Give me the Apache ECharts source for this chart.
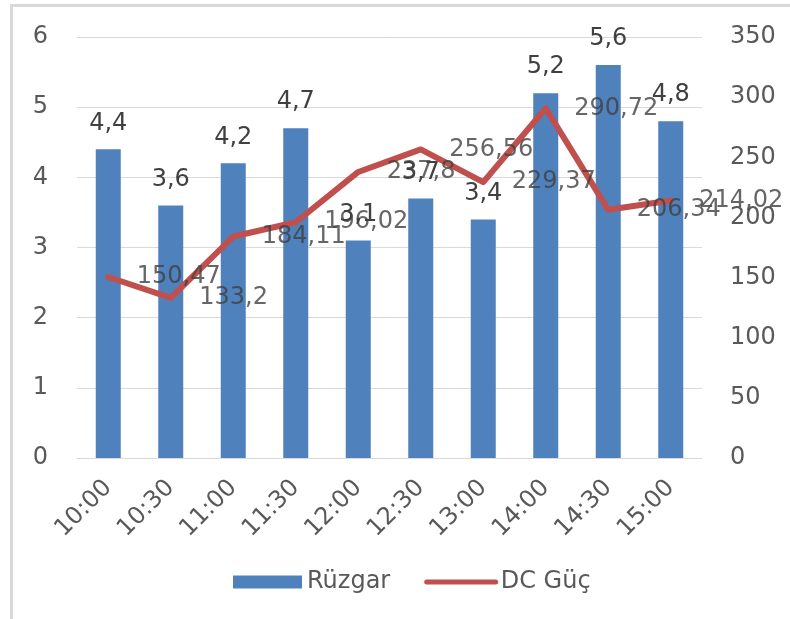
<!DOCTYPE html>
<html>
<head>
<meta charset="utf-8">
<title>Rüzgar / DC Güç</title>
<script src="https://cdn.jsdelivr.net/npm/echarts@6/dist/echarts.min.js"></script>
<style>
  html, body { margin: 0; padding: 0; background: #ffffff; }
  #chart { width: 790px; height: 619px; }
</style>
</head>
<body>
<div id="chart"></div>
<script>
// Half-hourly readings
const times = ['10:00', '10:30', '11:00', '11:30', '12:00', '12:30', '13:00', '14:00', '14:30', '15:00'];
const windValues = [4.4, 3.6, 4.2, 4.7, 3.1, 3.7, 3.4, 5.2, 5.6, 4.8];
const dcPower = [150.47, 133.2, 184.11, 196.02, 237.8, 256.56, 229.37, 290.72, 206.34, 214.02];

// Tick values for the two value axes
const leftTicks = { min: 0, max: 6, step: 1 };
const rightTicks = { min: 0, max: 350, step: 50 };

const FONT = 'DejaVu Sans';
const SIZE = 24;
const TEXT = '#595959';
const commaDecimal = v => String(v).replace('.', ',');

const chart = echarts.init(document.getElementById('chart'), null, { renderer: 'canvas' });

chart.setOption({
  animation: false,
  backgroundColor: '#ffffff',
  textStyle: { fontFamily: FONT },
  graphic: [{
    type: 'rect',
    silent: true,
    shape: { x: 11.5, y: 5.5, width: 900, height: 800 },
    style: { fill: 'none', stroke: '#d9d9d9', lineWidth: 3 },
    z: -10
  }],
  grid: { left: 77, right: 88, top: 37, bottom: 161, containLabel: false },
  legend: {
    bottom: 20,
    left: 228,
    itemWidth: 69,
    itemHeight: 13,
    itemGap: 34,
    textStyle: { fontFamily: FONT, fontSize: SIZE, color: TEXT },
    data: [
      { name: 'Rüzgar', icon: 'rect' },
      { name: 'DC Güç', itemStyle: { opacity: 0 }, lineStyle: { width: 5, cap: 'round' } }
    ]
  },
  xAxis: {
    type: 'category',
    data: times,
    axisLine: { lineStyle: { color: '#d9d9d9', width: 1 } },
    axisTick: { show: false },
    axisLabel: {
      rotate: 45,
      interval: 0,
      margin: 26,
      fontFamily: FONT,
      fontSize: SIZE,
      color: TEXT
    }
  },
  yAxis: [
    {
      type: 'value',
      min: leftTicks.min,
      max: leftTicks.max,
      interval: leftTicks.step,
      axisLine: { show: false },
      axisTick: { show: false },
      splitLine: { lineStyle: { color: '#d9d9d9', width: 1 } },
      axisLabel: { margin: 29, fontFamily: FONT, fontSize: SIZE, color: TEXT }
    },
    {
      type: 'value',
      min: rightTicks.min,
      max: rightTicks.max,
      interval: rightTicks.step,
      position: 'right',
      axisLine: { show: false },
      axisTick: { show: false },
      splitLine: { show: false },
      axisLabel: { margin: 28, fontFamily: FONT, fontSize: SIZE, color: TEXT }
    }
  ],
  series: [
    {
      name: 'Rüzgar',
      type: 'bar',
      data: windValues,
      barWidth: 25,
      itemStyle: { color: '#4f81bd' },
      label: {
        show: true,
        position: 'top',
        distance: 14,
        fontFamily: FONT,
        fontSize: SIZE,
        color: '#404040',
        formatter: p => commaDecimal(p.value)
      },
      z: 2
    },
    {
      name: 'DC Güç',
      type: 'line',
      yAxisIndex: 1,
      data: dcPower,
      symbol: 'none',
      lineStyle: { color: '#c0504d', width: 6, cap: 'round', join: 'round' },
      itemStyle: { color: '#c0504d' },
      z: 3
    },
    {
      // value tags for the power line
      name: 'DC Güç etiket',
      type: 'scatter',
      yAxisIndex: 1,
      data: dcPower,
      symbolSize: 1,
      itemStyle: { color: 'rgba(0,0,0,0)' },
      label: {
        show: true,
        position: 'right',
        distance: 28,
        fontFamily: FONT,
        fontSize: SIZE,
        color: '#404040',
        formatter: p => commaDecimal(p.value)
      },
      silent: true,
      z: 4
    }
  ]
});
</script>
</body>
</html>
